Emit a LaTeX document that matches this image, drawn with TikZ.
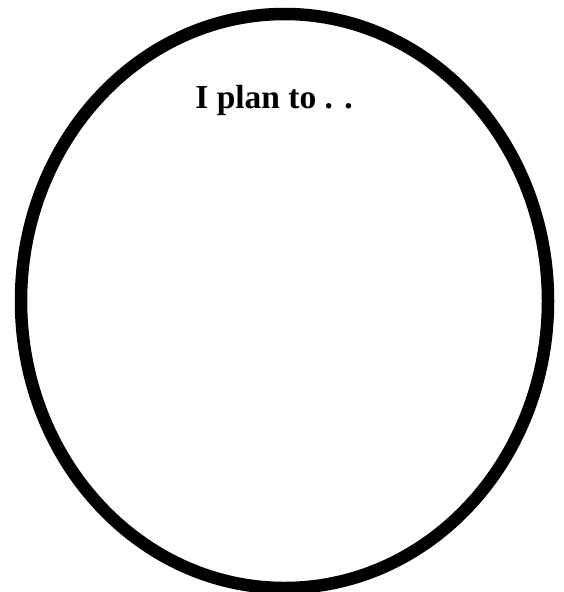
\documentclass[tikz,border=0pt]{standalone}
\usepackage{fontspec}
\setmainfont{Liberation Serif}
\usepackage{tikz}
\usetikzlibrary{positioning}

\begin{document}
\begin{tikzpicture}[x=1pt, y=-1pt, font=\bfseries]
  \useasboundingbox (0,0) rectangle (563,592);
  % the big oval
  \draw[line width=12.5pt, black] (284.5,301) ellipse [x radius=263.5, y radius=287];
  \node[anchor=base, inner sep=0pt, font=\fontsize{33.5}{40}\selectfont\bfseries] (plan) at (274,108) {I plan to . .};
\end{tikzpicture}
\end{document}
